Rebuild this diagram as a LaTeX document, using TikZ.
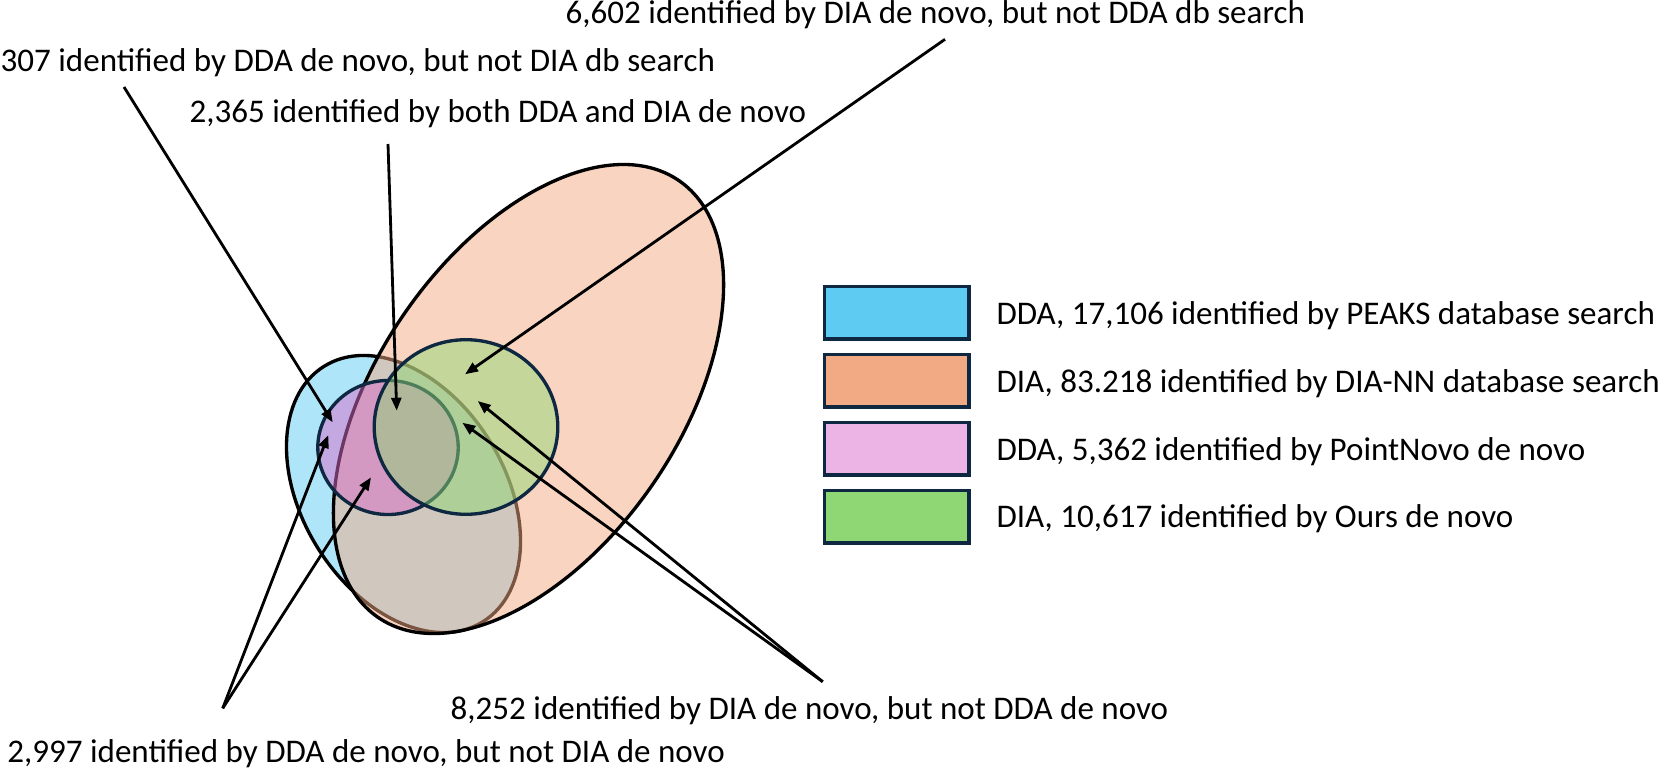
\documentclass[tikz,border=0pt]{standalone}
\usepackage{fontspec}
\setmainfont{Carlito}
\usetikzlibrary{shapes,arrows.meta,positioning,calc}
\definecolor{ddablue}{HTML}{5ECBF3}
\definecolor{diaorange}{HTML}{F2AA84}
\definecolor{novopink}{HTML}{EBB4E5}
\definecolor{vennpink}{HTML}{D96DCA}
\definecolor{oursgreen}{HTML}{8FD774}
\definecolor{edgenavy}{HTML}{0E2841}

\begin{document}
\begin{tikzpicture}[
    font=\fontsize{9.4pt}{11pt}\selectfont,
    set/.style={line width=0.95pt, fill opacity=0.5},
    legbox/.style={rectangle, draw=edgenavy, line width=1pt, minimum width=1.447cm, minimum height=0.524cm, inner sep=0pt},
    legtext/.style={anchor=west, inner sep=0pt, text height=0.8em, text depth=0.15em},
    callout/.style={anchor=base west, inner sep=0pt},
    arrow/.style={-{Triangle[length=0.13cm, width=0.10cm]}, line width=0.8pt}
]
\useasboundingbox (0,0) rectangle (16.61,7.70);

\draw[set, fill=ddablue] (4.035,2.76) ellipse [x radius=1.504, y radius=1.013, rotate=-58.2];
\draw[set, fill=diaorange] (5.285,3.71) ellipse [x radius=2.652, y radius=1.507, rotate=55.4];
\draw[set, draw=edgenavy, fill=vennpink] (3.88,3.225) ellipse [x radius=0.702, y radius=0.670];
\draw[set, draw=edgenavy, fill=oursgreen] (4.66,3.43) ellipse [x radius=0.918, y radius=0.873];

\coordinate (onlyDDAnovo) at (3.327,3.477);
\coordinate (bothNovo) at (3.967,3.593);
\coordinate (diaNovoOut) at (4.65,3.957);
\coordinate (diaNovoA) at (4.777,3.69);
\coordinate (diaNovoB) at (4.623,3.473);
\coordinate (ddaNovoA) at (3.283,3.35);
\coordinate (ddaNovoB) at (3.71,2.927);

\node[callout] (t6602) at (5.65,7.465) {6,602 identified by DIA de novo, but not DDA db search};
\node[callout] (t307) at (0,6.99) {307 identified by DDA de novo, but not DIA db search};
\node[callout] (t2365) at (1.89,6.473) {2,365 identified by both DDA and DIA de novo};
\node[callout] (t8252) at (4.50,0.507) {8,252 identified by DIA de novo, but not DDA de novo};
\node[callout] (t2997) at (0.067,0.073) {2,997 identified by DDA de novo, but not DIA de novo};

\coordinate (s6602) at (9.45,7.307);
\coordinate (s307) at (1.24,6.83);
\coordinate (s2365) at (3.88,6.26);
\coordinate (s8252) at (8.227,0.883);
\coordinate (s2997) at (2.227,0.617);

\draw[arrow] (s307) -- (onlyDDAnovo);
\draw[arrow] (s2365) -- (bothNovo);
\draw[arrow] (s6602) -- (diaNovoOut);
\draw[arrow] (s8252) -- (diaNovoA);
\draw[arrow] (s8252) -- (diaNovoB);
\draw[arrow] (s2997) -- (ddaNovoA);
\draw[arrow] (s2997) -- (ddaNovoB);

\node[legbox, fill=ddablue] (keyDDAdb) at (8.967,4.572) {};
\node[legbox, fill=diaorange, below=0.12cm of keyDDAdb] (keyDIAdb) {};
\node[legbox, fill=novopink, below=0.12cm of keyDIAdb] (keyDDAnovo) {};
\node[legbox, fill=oursgreen, below=0.12cm of keyDDAnovo] (keyDIAnovo) {};
\node[legtext, right=0.25cm of keyDDAdb] (txtDDAdb) {DDA, 17,106 identified by PEAKS database search};
\node[legtext, right=0.25cm of keyDIAdb] (txtDIAdb) {DIA, 83.218 identified by DIA-NN database search};
\node[legtext, right=0.25cm of keyDDAnovo] (txtDDAnovo) {DDA, 5,362 identified by PointNovo de novo};
\node[legtext, right=0.25cm of keyDIAnovo] (txtDIAnovo) {DIA, 10,617 identified by Ours de novo};
\end{tikzpicture}
\end{document}
